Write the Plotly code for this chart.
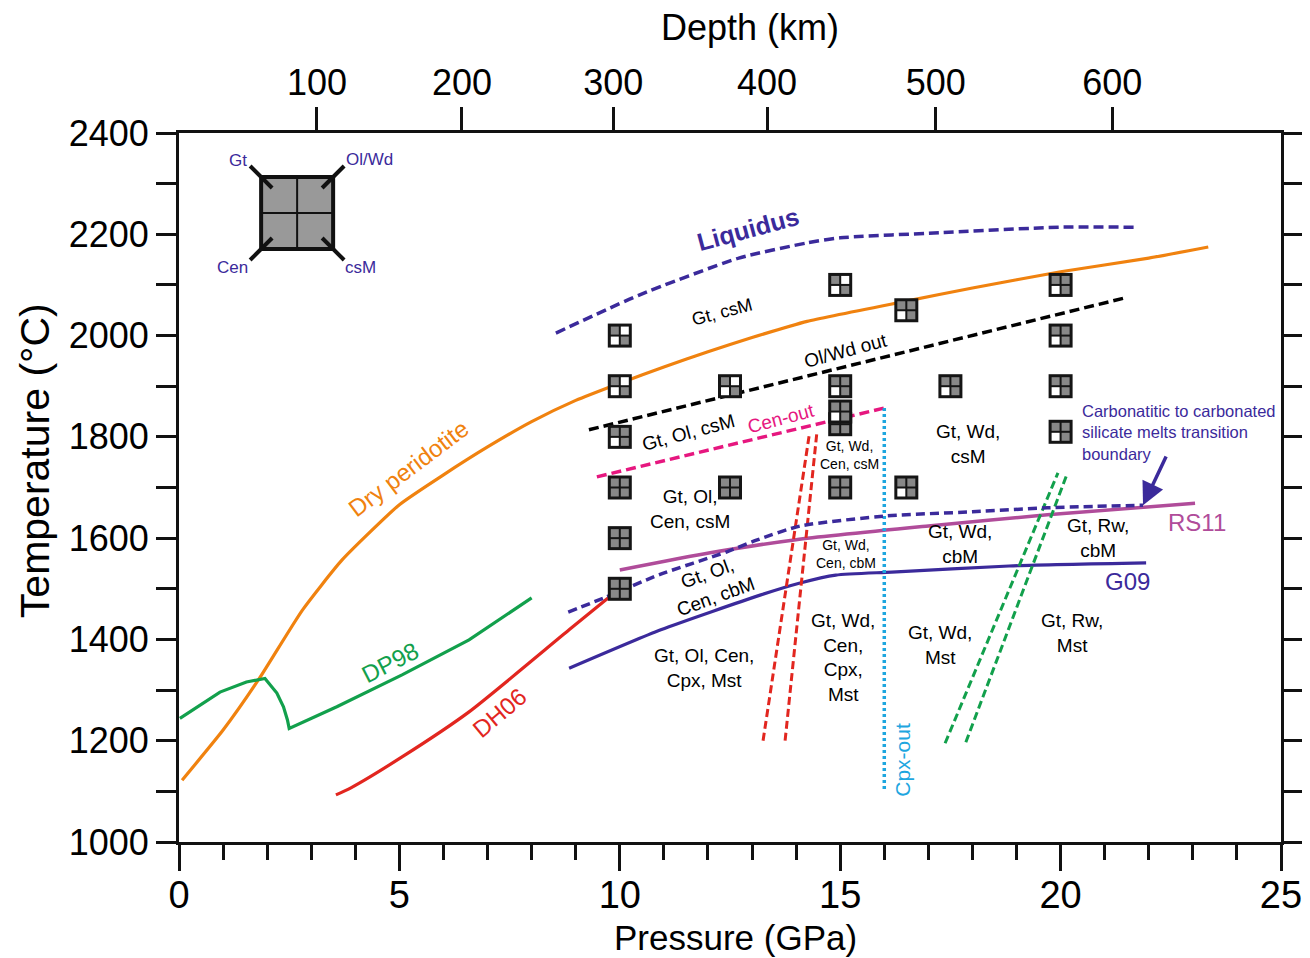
import plotly.graph_objects as go

# ---------------- data ----------------
# Dry peridotite solidus
dry_p = [0.07, 1.0, 1.8, 2.8, 3.7, 5.0, 6.0, 7.0, 8.0, 9.0, 10.0, 11.0, 12.0, 13.0, 14.25, 16.5, 18.0, 20.0, 22.0, 23.35]
dry_T = [1122, 1221, 1320, 1458, 1557, 1666, 1725, 1780, 1830, 1872, 1906, 1938, 1968, 1996, 2028, 2068, 2094, 2126, 2153, 2175]
# DP98
dp98_p = [0.02, 0.93, 1.53, 1.95, 2.22, 2.37, 2.46, 2.5, 3.58, 5.06, 6.58, 8.0]
dp98_T = [1244, 1296, 1316, 1323, 1294, 1267, 1241, 1224, 1267, 1330, 1399, 1482]
# DH06
dh06_p = [3.56, 3.9, 5.06, 6.58, 8.85, 9.95]
dh06_T = [1093, 1107, 1168, 1257, 1419, 1497]
# G09
g09_p = [8.85, 10.93, 13.2, 14.07, 14.9, 16.17, 18.83, 21.94]
g09_T = [1343, 1419, 1488, 1511, 1527, 1533, 1545, 1551]
# RS11
rs11_p = [10.0, 12.05, 14.0, 17.0, 19.7, 23.05]
rs11_T = [1537, 1571, 1597, 1624, 1646, 1669]
# Liquidus
liq_p = [8.55, 10.44, 12.7, 14.25, 15.0, 17.26, 19.97, 21.67]
liq_T = [2005, 2080, 2153, 2183, 2193, 2203, 2214, 2214]
# Ol/Wd out
olwd_p = [9.3, 21.44]
olwd_T = [1814, 2074]
# Cen-out
cen_p = [9.48, 16.0]
cen_T = [1721, 1857]
# Cpx-out
cpx_p = [16.0, 16.0]
cpx_T = [1857, 1100]
# red dashed double boundary
red1_p = [13.25, 14.3]
red1_T = [1200, 1805]
red2_p = [13.75, 14.47]
red2_T = [1200, 1808]
# green dashed double boundary
grn1_p = [17.38, 19.94]
grn1_T = [1195, 1729]
grn2_p = [17.85, 20.14]
grn2_T = [1197, 1725]
# carbonatitic -> carbonated silicate melts transition
cst_p = [8.83, 9.7, 10.9, 12.43, 13.1, 14.09, 16.06, 18.0, 19.7, 21.87]
cst_T = [1454, 1484, 1528, 1573, 1596, 1624, 1644, 1652, 1660, 1665]

# experiments (drawing order matters for the overlapping pair at 15 GPa)
exp_p = [10, 10, 10, 10, 10, 10, 12.5, 12.5, 15, 15, 15, 15, 15, 16.5, 16.5, 17.5, 20, 20, 20, 20]
exp_T = [2000, 1900, 1800, 1700, 1600, 1500, 1900, 1700, 2100, 1900, 1825, 1850, 1700, 2050, 1700, 1900, 2100, 2000, 1900, 1810]
exp_gt = [1, 1, 1, 1, 1, 1, 1, 1, 1, 1, 1, 1, 1, 1, 1, 1, 1, 1, 1, 1]
exp_olwd = [0, 0, 1, 1, 1, 1, 0, 1, 0, 1, 1, 1, 1, 1, 1, 1, 1, 1, 1, 1]
exp_cen = [0, 0, 0, 1, 1, 1, 0, 1, 0, 0, 1, 0, 1, 0, 0, 0, 0, 0, 0, 0]
exp_csm = [1, 1, 1, 1, 1, 1, 1, 1, 1, 1, 1, 1, 1, 1, 1, 1, 1, 1, 1, 1]

# depth axis
depth_p = [3.13, 6.42, 9.85, 13.34, 17.17, 21.17]
depth_km = ["100", "200", "300", "400", "500", "600"]

# legend key position
key_p, key_T = 2.68, 2242

# ---------------- colours ----------------
ORANGE = "#f0820f"
GREEN = "#12a04c"
RED = "#e2261f"
INDIGO = "#3b2a9b"
PURPLE = "#b04c9a"
PINK = "#e6177f"
CYAN = "#1ea6df"
FONT = "Liberation Sans"

fig = go.Figure()


def add_line(x, y, color, width=3.2, dash=None, shape="spline", smoothing=0.6):
    fig.add_trace(go.Scatter(x=x, y=y, mode="lines", hoverinfo="skip",
                             line=dict(color=color, width=width, dash=dash, shape=shape, smoothing=smoothing)))


add_line(dry_p, dry_T, ORANGE, smoothing=0.5)
add_line(dp98_p, dp98_T, GREEN, shape="linear")
add_line(dh06_p, dh06_T, RED)
add_line(g09_p, g09_T, INDIGO)
add_line(rs11_p, rs11_T, PURPLE, width=3.5)
add_line(liq_p, liq_T, INDIGO, width=3.5, dash="10px,5px")
add_line(olwd_p, olwd_T, "black", width=3.5, dash="10px,5px", shape="linear")
add_line(cen_p, cen_T, PINK, width=3.5, dash="10px,5px", shape="linear")
add_line(cpx_p, cpx_T, CYAN, width=3.5, dash="3px,3px", shape="linear")
add_line(red1_p, red1_T, RED, width=3, dash="8px,4px", shape="linear")
add_line(red2_p, red2_T, RED, width=3, dash="8px,4px", shape="linear")
add_line(grn1_p, grn1_T, GREEN, width=3, dash="8px,4px", shape="linear")
add_line(grn2_p, grn2_T, GREEN, width=3, dash="8px,4px", shape="linear")
add_line(cst_p, cst_T, INDIGO, width=3.5, dash="9px,5px")

# dummy trace for the depth axis
fig.add_trace(go.Scatter(x=[0, 25], y=[1000, 1000], xaxis="x2", mode="lines",
                         line=dict(width=0), hoverinfo="skip", showlegend=False))

# ---------------- experiment squares ----------------
shapes = []


def prect(xa, ya, x0, x1, y0, y1, fill, lw=0, lc="black"):
    return dict(type="rect", xref="x", yref="y", xsizemode="pixel", ysizemode="pixel",
                xanchor=xa, yanchor=ya, x0=x0, x1=x1, y0=y0, y1=y1,
                fillcolor=fill, line=dict(width=lw, color=lc), layer="above")


def pline(xa, ya, x0, x1, y0, y1, lw, color="black"):
    return dict(type="line", xref="x", yref="y", xsizemode="pixel", ysizemode="pixel",
                xanchor=xa, yanchor=ya, x0=x0, x1=x1, y0=y0, y1=y1,
                line=dict(width=lw, color=color), layer="above")


GRAY = "#888888"
for p, T, a, b, c, d in zip(exp_p, exp_T, exp_gt, exp_olwd, exp_cen, exp_csm):
    shapes.append(prect(p, T, -12, 12, -12, 12, "#151515"))
    shapes.append(prect(p, T, -9, -1, 1, 9, GRAY if a else "white"))
    shapes.append(prect(p, T, 1, 9, 1, 9, GRAY if b else "white"))
    shapes.append(prect(p, T, -9, -1, -9, -1, GRAY if c else "white"))
    shapes.append(prect(p, T, 1, 9, -9, -1, GRAY if d else "white"))

# key square
shapes.append(prect(key_p, key_T, -36, 36, -36, 36, "#999999", lw=4, lc="#111111"))
shapes.append(pline(key_p, key_T, 0, 0, -36, 36, 2, "#111111"))
shapes.append(pline(key_p, key_T, -36, 36, 0, 0, 2, "#111111"))
for sx, sy in [(-1, 1), (1, 1), (-1, -1), (1, -1)]:
    shapes.append(pline(key_p, key_T, sx * 47, sx * 25, sy * 47, sy * 25, 4, "#111111"))

# ---------------- annotations ----------------
ann = []


def label(x, y, text, size=19, color="black", angle=0, bold=False, xanchor="center", align="center"):
    if bold:
        text = "<b>" + text + "</b>"
    ann.append(dict(x=x, y=y, xref="x", yref="y", text=text, showarrow=False, textangle=angle,
                    font=dict(family=FONT, size=size, color=color), xanchor=xanchor, align=align))


label(12.91, 2210, "Liquidus", 25, INDIGO, -15, bold=True)
label(12.32, 2047, "Gt, csM", 18, angle=-15)
label(15.13, 1971, "Ol/Wd out", 19, angle=-15)
label(11.55, 1808, "Gt, Ol, csM", 19, angle=-15)
label(13.66, 1836, "Cen-out", 19, PINK, -15)
label(15.22, 1764, "Gt, Wd,<br>Cen, csM", 14)
label(17.9, 1786, "Gt, Wd,<br>csM", 19)
label(11.59, 1658, "Gt, Ol,<br>Cen, csM", 19)
label(12.09, 1507, "Gt, Ol,<br>Cen, cbM", 19, angle=-20)
label(15.13, 1569, "Gt, Wd,<br>Cen, cbM", 14)
label(17.72, 1588, "Gt, Wd,<br>cbM", 19)
label(20.85, 1600, "Gt, Rw,<br>cbM", 19)
label(23.09, 1630, "RS11", 24, PURPLE)
label(21.51, 1515, "G09", 24, INDIGO)
label(11.91, 1344, "Gt, Ol, Cen,<br>Cpx, Mst", 19)
label(15.06, 1365, "Gt, Wd,<br>Cen,<br>Cpx,<br>Mst", 19)
label(17.26, 1389, "Gt, Wd,<br>Mst", 19)
label(20.26, 1413, "Gt, Rw,<br>Mst", 19)
label(16.42, 1162, "Cpx-out", 21, CYAN, -90)
label(5.2, 1738, "Dry peridotite", 24, ORANGE, -37)
label(4.79, 1355, "DP98", 24, GREEN, -27)
label(7.28, 1255, "DH06", 24, RED, -40)
label(20.45, 1808, "Carbonatitic to carbonated<br>silicate melts transition<br>boundary", 16.5, INDIGO,
      xanchor="left", align="left")

# key labels
for txt, dx, dy in [("Gt", -59, 53), ("Ol/Wd", 72, 54), ("Cen", -65, -54), ("csM", 63, -54)]:
    ann.append(dict(x=key_p, y=key_T, xref="x", yref="y", text=txt, showarrow=False,
                    xshift=dx, yshift=dy, font=dict(family=FONT, size=17, color=INDIGO)))

# arrow to the transition boundary
ann.append(dict(x=21.87, y=1665, ax=22.41, ay=1764, xref="x", yref="y", axref="x", ayref="y",
                text="", showarrow=True, arrowhead=2, arrowsize=1.3, arrowwidth=3.5, arrowcolor=INDIGO))

# axis titles (as annotations so they can sit off-centre like the reference)
ann.append(dict(x=12.95, y=1, xref="x", yref="paper", yanchor="middle", yshift=106, showarrow=False,
                text="Depth (km)", font=dict(family=FONT, size=36)))
ann.append(dict(x=12.62, y=0, xref="x", yref="paper", yanchor="middle", yshift=-95, showarrow=False,
                text="Pressure (GPa)", font=dict(family=FONT, size=35)))
ann.append(dict(x=0, y=1752, xref="paper", yref="y", xanchor="center", xshift=-144, showarrow=False,
                textangle=-90, text="Temperature (°C)", font=dict(family=FONT, size=41)))

# ---------------- layout ----------------
yvals = list(range(1000, 2401, 100))
ytext = [str(v) if v % 200 == 0 else "" for v in yvals]

# page body has an 8 px margin: figure is 1302x950 so the screenshot matches 1310x958
fig.update_layout(
    width=1302, height=950,
    margin=dict(l=171, r=29, t=125, b=116),
    paper_bgcolor="white", plot_bgcolor="white",
    showlegend=False,
    font=dict(family=FONT, color="black"),
    shapes=shapes,
    annotations=ann,
    xaxis=dict(range=[0, 25], showgrid=False, zeroline=False, automargin=False,
               showline=True, linewidth=3, linecolor="#111111", mirror=True,
               tickmode="array", tickvals=[0, 5, 10, 15, 20, 25],
               ticks="outside", ticklen=26, tickwidth=3, tickcolor="#111111",
               minor=dict(dtick=1, ticks="outside", ticklen=15, tickwidth=3, tickcolor="#111111", showgrid=False),
               tickfont=dict(size=38, family=FONT), ticklabelstandoff=-9),
    xaxis2=dict(range=[0, 25], overlaying="x", side="top", anchor="y", showgrid=False, zeroline=False,
                automargin=False,
                showline=False, tickmode="array", tickvals=depth_p, ticktext=depth_km,
                ticks="outside", ticklen=25, tickwidth=3, tickcolor="#111111",
                tickfont=dict(size=36, family=FONT), ticklabelstandoff=-2),
    yaxis=dict(range=[1000, 2400], showgrid=False, zeroline=False, automargin=False,
               showline=True, linewidth=3, linecolor="#111111", mirror="allticks",
               tickmode="array", tickvals=yvals, ticktext=ytext,
               ticks="outside", ticklen=20, tickwidth=3, tickcolor="#111111",
               tickfont=dict(size=36, family=FONT)),
)

fig.write_html("out.html")
